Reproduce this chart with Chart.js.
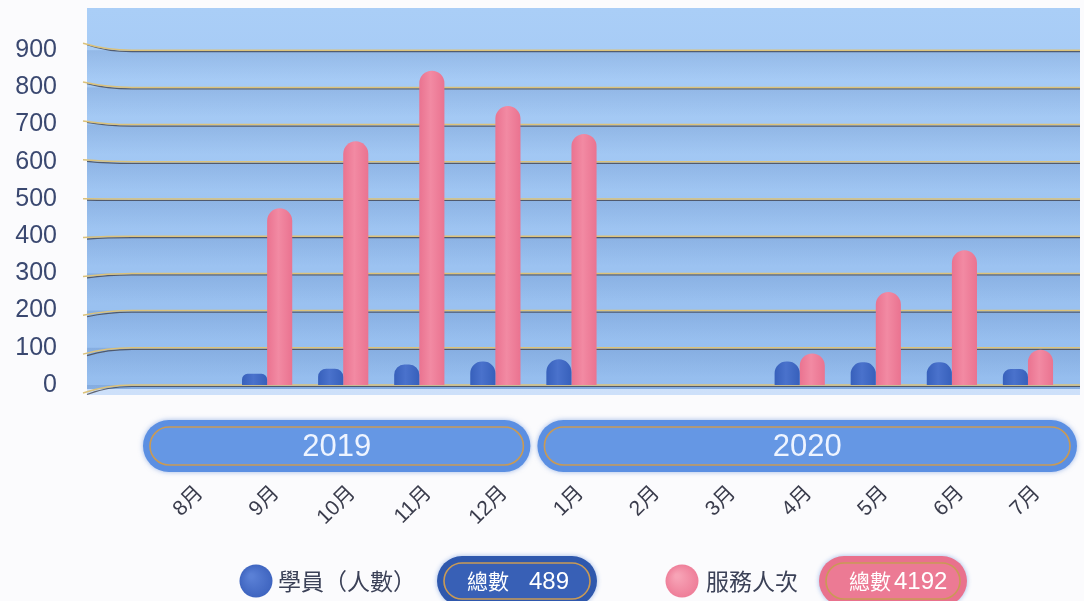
<!DOCTYPE html>
<html>
<head>
<meta charset="utf-8">
<script src="https://cdn.jsdelivr.net/npm/chart.js@4"></script>
<style>
    html, body { margin: 0; padding: 0; background: #fbfbfd; }
    #wrap { width: 1084px; height: 601px; }
</style>
</head>
<body>
<div id="wrap"><canvas id="service_chart" width="1084" height="601"></canvas></div>
<script>
var months = ["8月", "9月", "10月", "11月", "12月", "1月", "2月", "3月", "4月", "5月", "6月", "7月"];
var years = ["2019", "2020"];
var yearSpans = [5, 7];
var students = [null, 30, 44, 55, 63, 69, null, null, 63, 61, 61, 43];
var services = [null, 475, 655, 845, 750, 675, null, null, 85, 250, 362, 95];
var seriesNames = ["學員（人數）", "服務人次"];
var totalWord = "總數";
var CAT_PCT = 0.66;

function total(arr) {
    return arr.reduce(function (s, v) { return s + (v || 0); }, 0);
}

// cylinder-ish shading across each bar
function barShade(edge, mid) {
    return function (c) {
        var xs = c.chart.scales.x;
        if (!xs || c.dataIndex === undefined) return edge;
        var step = xs.getPixelForValue(1) - xs.getPixelForValue(0);
        var w = step * CAT_PCT / 2;
        var cx = xs.getPixelForValue(c.dataIndex) + (c.datasetIndex === 0 ? -w / 2 : w / 2);
        if (!isFinite(cx) || !isFinite(w) || w <= 0) return edge;
        var g = c.chart.ctx.createLinearGradient(cx - w / 2, 0, cx + w / 2, 0);
        g.addColorStop(0, edge);
        g.addColorStop(0.45, mid);
        g.addColorStop(1, edge);
        return g;
    };
}

function pill(ctx, x, y, w, h, fill, inner) {
    ctx.save();
    ctx.shadowColor = "rgba(70,120,210,0.5)";
    ctx.shadowBlur = 5;
    ctx.fillStyle = fill;
    ctx.beginPath();
    ctx.roundRect(x, y, w, h, h / 2);
    ctx.fill();
    ctx.restore();
    ctx.save();
    ctx.strokeStyle = "#c99a55";
    ctx.lineWidth = 1.6;
    ctx.fillStyle = inner;
    ctx.beginPath();
    ctx.roundRect(x + 7, y + 7, w - 14, h - 14, (h - 14) / 2);
    ctx.fill();
    ctx.stroke();
    ctx.restore();
}

// blue wall + gold grid lines, drawn before the bars
var backdrop = {
    id: "backdrop",
    beforeDraw: function (chart) {
        var ctx = chart.ctx, area = chart.chartArea, y = chart.scales.y;
        var left = 87, right = 1080;
        ctx.save();
        var g = ctx.createLinearGradient(0, 8, 0, area.bottom + 10);
        g.addColorStop(0, "#aacef7");
        g.addColorStop(1, "#95bdee");
        ctx.fillStyle = g;
        ctx.fillRect(left, 8, right - left, area.bottom + 10 - 8);
        // lighter floor strip
        ctx.fillStyle = "rgba(230,240,255,0.7)";
        ctx.fillRect(left, area.bottom + 4, right - left, 6);
        for (var v = 0; v <= 900; v += 100) {
            var py = y.getPixelForValue(v);
            var band = ctx.createLinearGradient(0, py, 0, py + 30);
            band.addColorStop(0, "rgba(40,80,150,0.16)");
            band.addColorStop(1, "rgba(40,80,150,0)");
            ctx.fillStyle = band;
            ctx.fillRect(left, py, right - left, v === 0 ? 4 : 30);
            var yl = py + 8 - v * 15 / 900;
            ctx.beginPath();
            ctx.moveTo(left, yl + 1.5);
            ctx.quadraticCurveTo(left + 20, py + 1.5, left + 45, py + 1.5);
            ctx.lineTo(right, py + 1.5);
            ctx.strokeStyle = "rgba(60,60,70,0.75)";
            ctx.lineWidth = 1.2;
            ctx.stroke();
            ctx.beginPath();
            ctx.moveTo(left - 4, yl);
            ctx.quadraticCurveTo(left + 20, py, left + 45, py);
            ctx.lineTo(right, py);
            ctx.strokeStyle = "#dcc27a";
            ctx.lineWidth = 1.5;
            ctx.stroke();
        }
        ctx.restore();
    },
    afterDraw: function (chart) {
        var ctx = chart.ctx, x = chart.scales.x, area = chart.chartArea;
        var step = x.getPixelForValue(1) - x.getPixelForValue(0);
        var start = 0;
        ctx.save();
        years.forEach(function (yr, i) {
            var end = start + yearSpans[i] - 1;
            var x1 = x.getPixelForValue(start) - step / 2 + (i === 0 ? -10 : 4);
            var x2 = x.getPixelForValue(end) + step / 2 + (i === years.length - 1 ? 11 : -3);
            pill(ctx, x1, area.bottom + 35, x2 - x1, 52, "#5b8fe2", "#6597e4");
            ctx.fillStyle = "#eef4ff";
            ctx.font = "31px 'Liberation Sans', Arial, sans-serif";
            ctx.textAlign = "center";
            ctx.textBaseline = "middle";
            ctx.fillText(yr, (x1 + x2) / 2, area.bottom + 62);
            start = end + 1;
        });

        // legend with totals
        var cy = 581;
        var items = [
            { cx: 256, color: "#3e64bf", tx: 278, px: 437, pw: 160, pfill: "#2f58ad", pin: "#3860b6", data: students },
            { cx: 682, color: "#ee7d98", tx: 706, px: 819, pw: 148, pfill: "#e9718d", pin: "#ec7a94", data: services }
        ];
        items.forEach(function (it, i) {
            var rg = ctx.createRadialGradient(it.cx - 5, cy - 5, 2, it.cx, cy, 17);
            rg.addColorStop(0, i === 0 ? "#5a80d6" : "#f7a3b6");
            rg.addColorStop(1, it.color);
            ctx.fillStyle = rg;
            ctx.beginPath();
            ctx.arc(it.cx, cy, 16.5, 0, Math.PI * 2);
            ctx.fill();
            ctx.fillStyle = "#3b4157";
            ctx.font = "23px 'Noto Sans CJK TC', sans-serif";
            ctx.textAlign = "left";
            ctx.textBaseline = "middle";
            ctx.fillText(seriesNames[i], it.tx, cy);
            pill(ctx, it.px, cy - 25, it.pw, 50, it.pfill, it.pin);
            ctx.fillStyle = "#ffffff";
            ctx.font = "21px 'Noto Sans CJK TC', sans-serif";
            ctx.fillText(totalWord, it.px + 30, cy);
            ctx.font = "24px 'Liberation Sans', Arial, sans-serif";
            ctx.fillText(String(total(it.data)), it.px + (i === 0 ? 92 : 75), cy + 1);
        });
        ctx.restore();
    }
};

var ctx = document.getElementById("service_chart");
var serviceChart = new Chart(ctx, {
    type: "bar",
    data: {
        labels: months,
        datasets: [{
            label: seriesNames[0],
            data: students,
            backgroundColor: barShade("#3760bb", "#4a72cc"),
            borderRadius: { topLeft: 13, topRight: 13, bottomLeft: 0, bottomRight: 0 },
            borderSkipped: "start",
            categoryPercentage: CAT_PCT,
            barPercentage: 1.0
        }, {
            label: seriesNames[1],
            data: services,
            backgroundColor: barShade("#ea7390", "#f28aa3"),
            borderRadius: { topLeft: 13, topRight: 13, bottomLeft: 0, bottomRight: 0 },
            borderSkipped: "start",
            categoryPercentage: CAT_PCT,
            barPercentage: 1.0
        }]
    },
    options: {
        responsive: false,
        animation: false,
        layout: { autoPadding: false, padding: { top: 13, right: 18, left: 0, bottom: 0 } },
        plugins: {
            legend: { display: false },
            tooltip: { enabled: false }
        },
        scales: {
            x: {
                grid: { display: false, drawTicks: false },
                border: { display: false },
                afterFit: function (scale) {
                    scale.height = 216;
                    scale.paddingLeft = 0;
                    scale.paddingRight = 0;
                },
                ticks: {
                    maxRotation: 45,
                    minRotation: 45,
                    autoSkip: false,
                    padding: 96,
                    labelOffset: 9,
                    color: "#3a3c4c",
                    font: { size: 21, family: "'Liberation Sans', 'Noto Sans CJK TC', sans-serif" }
                }
            },
            y: {
                min: 0,
                max: 1000,
                grid: { display: false, drawTicks: false },
                border: { display: false },
                afterFit: function (scale) {
                    scale.width = 153;
                    scale.paddingTop = 0;
                    scale.paddingBottom = 0;
                },
                ticks: {
                    stepSize: 100,
                    autoSkip: false,
                    padding: 96,
                    color: "#3a4870",
                    font: { size: 25, family: "'Liberation Sans', Arial, sans-serif" },
                    callback: function (v) { return v > 900 ? "" : v; }
                }
            }
        }
    },
    plugins: [backdrop]
});
</script>
</body>
</html>
